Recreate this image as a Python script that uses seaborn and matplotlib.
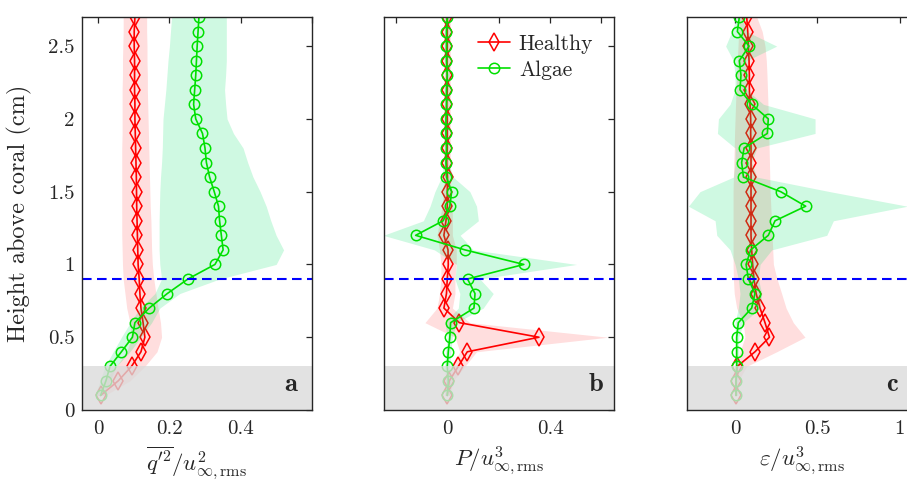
import numpy as np
import pandas as pd
import matplotlib
matplotlib.use("Agg")
import matplotlib.pyplot as plt
import seaborn as sns

# ---------------- data ----------------
heights = [0.1, 0.2, 0.3, 0.4, 0.5, 0.6, 0.7, 0.8, 0.9, 1.0, 1.1, 1.2, 1.3, 1.4,
           1.5, 1.6, 1.7, 1.8, 1.9, 2.0, 2.1, 2.2, 2.3, 2.4, 2.5, 2.6, 2.7]

# panel a : q'^2 / u^2
a_healthy = [0.0065, 0.056, 0.0935, 0.120, 0.131, 0.126, 0.120, 0.117, 0.115, 0.112,
             0.111, 0.110, 0.109, 0.108, 0.1075, 0.107, 0.106, 0.105, 0.104, 0.103,
             0.103, 0.102, 0.102, 0.102, 0.101, 0.101, 0.103]
a_healthy_lo = [-0.005, 0.014, 0.051, 0.080, 0.093, 0.089, 0.080, 0.075, 0.070, 0.068,
                0.067, 0.066, 0.066, 0.066, 0.066, 0.066, 0.066, 0.066, 0.067, 0.067,
                0.067, 0.067, 0.068, 0.068, 0.069, 0.070, 0.070]
a_healthy_hi = [0.019, 0.089, 0.131, 0.165, 0.178, 0.175, 0.168, 0.162, 0.156, 0.152,
                0.150, 0.149, 0.148, 0.146, 0.145, 0.144, 0.143, 0.142, 0.141, 0.140,
                0.139, 0.138, 0.138, 0.137, 0.137, 0.136, 0.136]
a_algae = [0.0065, 0.0215, 0.033, 0.065, 0.096, 0.103, 0.143, 0.194, 0.252, 0.328,
           0.351, 0.346, 0.341, 0.338, 0.326, 0.313, 0.304, 0.300, 0.293, 0.274,
           0.268, 0.271, 0.274, 0.276, 0.278, 0.2805, 0.283]
a_algae_lo = [-0.009, 0.005, 0.019, 0.042, 0.065, 0.090, 0.117, 0.159, 0.178, 0.173,
              0.171, 0.171, 0.171, 0.172, 0.173, 0.175, 0.178, 0.180, 0.181, 0.182,
              0.186, 0.190, 0.193, 0.196, 0.200, 0.203, 0.206]
a_algae_hi = [0.014, 0.033, 0.051, 0.089, 0.120, 0.150, 0.173, 0.229, 0.341, 0.500,
              0.521, 0.500, 0.485, 0.472, 0.455, 0.435, 0.420, 0.407, 0.380, 0.362,
              0.358, 0.355, 0.358, 0.360, 0.360, 0.360, 0.360]

# panel b : P / u^3
b_healthy = [0.0, 0.008, 0.043, 0.078, 0.357, 0.047, -0.013, -0.003, 0.0, 0.004,
             0.003, -0.013, -0.005, 0.0, 0.0, 0.001, -0.002, 0.0, 0.0, 0.0,
             -0.002, 0.0, 0.0, -0.001, 0.0, 0.0, 0.0]
b_healthy_lo = [-0.009, -0.009, 0.017, 0.049, 0.030, -0.087, -0.040, -0.030, -0.025, -0.025,
                -0.030, -0.040, -0.030, -0.020, -0.015, -0.012, -0.012, -0.012, -0.012, -0.012,
                -0.012, -0.012, -0.012, -0.012, -0.012, -0.012, -0.012]
b_healthy_hi = [0.010, 0.023, 0.069, 0.114, 0.626, 0.088, 0.020, 0.030, 0.030, 0.035,
                0.035, 0.020, 0.020, 0.020, 0.015, 0.012, 0.012, 0.012, 0.012, 0.012,
                0.012, 0.012, 0.012, 0.012, 0.012, 0.012, 0.012]
b_algae = [0.0, 0.004, 0.0, 0.004, 0.010, 0.013, 0.104, 0.108, 0.079, 0.298,
           0.069, -0.123, -0.016, 0.010, 0.017, -0.003, -0.005, -0.003, -0.005, -0.005,
           -0.003, -0.003, 0.0, -0.003, -0.003, -0.003, 0.0]
b_algae_lo = [-0.010, -0.006, -0.010, -0.006, 0.000, -0.009, 0.043, 0.049, 0.030, 0.036,
              -0.050, -0.249, -0.093, -0.067, -0.048, -0.022, -0.015, -0.013, -0.015, -0.015,
              -0.013, -0.013, -0.010, -0.013, -0.013, -0.013, -0.010]
b_algae_hi = [0.010, 0.014, 0.010, 0.014, 0.020, 0.036, 0.140, 0.179, 0.127, 0.503,
              0.101, 0.050, 0.121, 0.114, 0.088, 0.023, 0.005, 0.007, 0.005, 0.005,
              0.007, 0.007, 0.010, 0.007, 0.007, 0.007, 0.010]

# panel c : epsilon / u^3
c_healthy = [0.006, 0.006, 0.014, 0.121, 0.209, 0.182, 0.152, 0.128, 0.115, 0.107,
             0.101, 0.097, 0.097, 0.097, 0.097, 0.097, 0.097, 0.097, 0.095, 0.095,
             0.091, 0.087, 0.087, 0.085, 0.081, 0.077, 0.071]
c_healthy_lo = [-0.005, -0.005, 0.000, 0.030, 0.060, 0.050, 0.010, -0.005, -0.010, -0.012,
                -0.012, -0.012, -0.012, -0.012, -0.012, -0.010, -0.008, -0.005, -0.003, 0.000,
                0.003, 0.006, 0.010, 0.014, 0.018, 0.022, 0.025]
c_healthy_hi = [0.015, 0.020, 0.071, 0.253, 0.425, 0.354, 0.310, 0.283, 0.255, 0.233,
                0.229, 0.225, 0.221, 0.217, 0.213, 0.211, 0.209, 0.207, 0.204, 0.202,
                0.200, 0.197, 0.194, 0.190, 0.182, 0.165, 0.132]
c_algae = [0.006, 0.006, 0.010, 0.010, 0.010, 0.020, 0.101, 0.121, 0.081, 0.067,
           0.095, 0.202, 0.243, 0.429, 0.277, 0.051, 0.040, 0.055, 0.196, 0.202,
           0.101, 0.030, 0.036, 0.026, 0.085, 0.014, 0.026]
c_algae_lo = [-0.004, -0.004, 0.000, 0.000, 0.000, 0.000, 0.020, 0.030, 0.020, 0.000,
              -0.030, -0.111, -0.121, -0.283, -0.213, -0.010, 0.000, 0.000, -0.107, -0.101,
              -0.030, 0.000, 0.000, -0.010, -0.057, -0.020, 0.010]
c_algae_hi = [0.018, 0.018, 0.022, 0.022, 0.022, 0.051, 0.152, 0.162, 0.142, 0.152,
              0.223, 0.557, 0.597, 1.047, 0.577, 0.132, 0.101, 0.132, 0.486, 0.486,
              0.172, 0.071, 0.081, 0.071, 0.253, 0.071, 0.040]

series_names = ["Healthy", "Algae"]
panel_letters = ["a", "b", "c"]
xlabels = [r"$\overline{q^{\prime 2}}/u^{2}_{\infty,\mathrm{rms}}$",
           r"$P/u^{3}_{\infty,\mathrm{rms}}$",
           r"$\varepsilon/u^{3}_{\infty,\mathrm{rms}}$"]
xticks_list = [[0, 0.2, 0.4, 0.6], [-0.2, 0, 0.2, 0.4, 0.6], [0, 0.5, 1]]
xticklabels_list = [["0", "0.2", "0.4", ""], ["", "0", "", "0.4", ""], ["0", "0.5", "1"]]
xlims = [(-0.0466, 0.599), (-0.245, 0.649), (-0.29, 1.107)]
yticks = [0, 0.5, 1, 1.5, 2, 2.5]
yticklabels = ["0", "0.5", "1", "1.5", "2", "2.5"]
y_interface = 0.9
y_canopy = 0.3

# ---------------- style ----------------
sns.set_style("white")
plt.rcParams["font.family"] = ["cmr10", "DejaVu Serif"]
plt.rcParams["mathtext.fontset"] = "cm"
plt.rcParams["axes.formatter.use_mathtext"] = True
plt.rcParams["axes.unicode_minus"] = False

RED = "#ff0000"
GREEN = "#00e000"

W, H = 907, 483
fig = plt.figure(figsize=(W / 100, H / 100), dpi=100)

top_px, bot_px = 17, 410
lefts_px = [81.7, 384.3, 687.3]
widths_px = [230.0, 229.7, 230.0]

panels = [
    (a_healthy, a_healthy_lo, a_healthy_hi, a_algae, a_algae_lo, a_algae_hi),
    (b_healthy, b_healthy_lo, b_healthy_hi, b_algae, b_algae_lo, b_algae_hi),
    (c_healthy, c_healthy_lo, c_healthy_hi, c_algae, c_algae_lo, c_algae_hi),
]

for i, (hv, hlo, hhi, av, alo, ahi) in enumerate(panels):
    ax = fig.add_axes([lefts_px[i] / W, (H - bot_px) / H,
                       widths_px[i] / W, (bot_px - top_px) / H])
    df_h = pd.DataFrame({"val": hv, "h": heights})
    df_a = pd.DataFrame({"val": av, "h": heights})

    ax.fill_betweenx(heights, hlo, hhi, color=(1.0, 0.0, 0.0), alpha=0.13,
                     linewidth=0, zorder=1)
    sns.lineplot(data=df_h, x="val", y="h", orient="y", sort=False, estimator=None,
                 color=RED, marker="d", markersize=9, markerfacecolor="none",
                 markeredgecolor=RED, markeredgewidth=1.1, linewidth=1.2,
                 label=series_names[0], ax=ax, zorder=2)
    ax.fill_betweenx(heights, alo, ahi, color=(0.0, 0.88, 0.4), alpha=0.19,
                     linewidth=0, zorder=3)
    sns.lineplot(data=df_a, x="val", y="h", orient="y", sort=False, estimator=None,
                 color=GREEN, marker="o", markersize=7.5, markerfacecolor="none",
                 markeredgecolor=GREEN, markeredgewidth=1.1, linewidth=1.2,
                 label=series_names[1], ax=ax, zorder=4)

    ax.axhspan(0, y_canopy, color="#dadada", alpha=0.78, linewidth=0, zorder=5)
    ax.axhline(y_interface, color="#0000ff", linewidth=1.5,
               linestyle=(0, (4.6, 2.6)), zorder=6)

    ax.set_xlim(*xlims[i])
    ax.set_ylim(0, 2.7)
    ax.set_xticks(xticks_list[i])
    ax.set_xticklabels(xticklabels_list[i])
    ax.set_yticks(yticks)
    if i == 0:
        ax.set_yticklabels(yticklabels)
        ax.set_ylabel("Height above coral (cm)", fontsize=17.5)
        ax.yaxis.set_label_coords(-0.215, 0.5)
    else:
        ax.set_yticklabels([])
        ax.set_ylabel("")
    ax.set_xlabel(xlabels[i], fontsize=16.5)
    ax.xaxis.set_label_coords(0.5, -0.088)
    ax.tick_params(direction="in", length=4, width=0.9, top=True, right=True,
                   labelsize=15, colors="#262626", pad=7)
    ax.tick_params(axis="y", pad=5)
    for sp in ax.spines.values():
        sp.set_color("#262626")
        sp.set_linewidth(1.0)
        sp.set_zorder(10)

    letter_x = [0.914, 0.92, 0.894][i]
    ax.text(letter_x, 0.066, r"$\mathbf{%s}$" % panel_letters[i], transform=ax.transAxes,
            ha="center", va="center", fontsize=19, zorder=11)

    if i == 1:
        ax.legend(loc="upper right", bbox_to_anchor=(0.975, 0.995), frameon=False,
                  fontsize=15.5, handlelength=1.5, handletextpad=0.4, borderaxespad=0.3,
                  labelspacing=0.32)
    else:
        leg = ax.get_legend()
        if leg is not None:
            leg.remove()

fig.savefig("out.png", dpi=100)
